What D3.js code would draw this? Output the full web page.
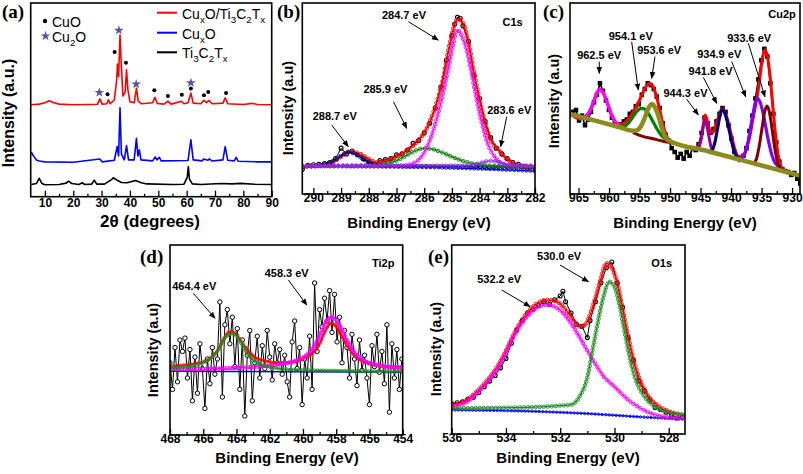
<!DOCTYPE html>
<html><head><meta charset="utf-8">
<script src="https://cdn.jsdelivr.net/npm/d3@7"></script>
<style>
body{margin:0;background:#fff;}
svg{display:block;font-family:"Liberation Sans",Arial,sans-serif;}
</style></head><body>
<svg id="chart" width="803" height="474"></svg>
<script>
// ===================== DATA =====================
// (a) XRD: [2theta, intensity (arb., 0-100 frame units)]
const xrdCuxOTi = [[5,47.5],[8,47.8],[10,48.5],[11.5,49.5],[13,48.6],[15,47.8],[20,47.5],[25,47.6],[28.5,47.7],[29.4,50.5],[30.2,47.8],[31.8,48],[32.4,50],[33,48],[34.5,50],[35.3,60],[35.6,68.5],[36.0,62],[36.5,83.5],[36.9,70],[37.5,52],[38.3,54],[38.8,65.5],[39.3,55],[40,49],[41.5,48.5],[42.3,56],[42.9,49.5],[44,48],[48,48.5],[48.8,51.3],[49.6,48.2],[52,47.8],[53.4,49.3],[54.5,47.8],[58.2,49.3],[59,48],[60.5,48.5],[61.5,53.5],[62.3,48.3],[65,48],[66.1,49.8],[67,48.6],[67.9,49.7],[69,48],[72.8,48.3],[73.6,51],[74.5,48],[80,47.6],[83,48.2],[85,47.6],[90,47.5]];
const xrdCuxO = [[5.2,23],[6,21],[7,19],[8,18.4],[10,18],[20,17.8],[29.4,19.5],[30.2,18],[34.5,18.8],[35.5,25.9],[36.0,21],[36.5,45.9],[37,22],[38,19],[38.8,26.4],[39.5,19],[41.5,19],[42.3,30.2],[42.8,21],[43.3,24.2],[43.9,19],[48,18.5],[48.9,20.5],[49.5,19],[50.4,20.3],[51,18.5],[60.5,18.7],[61.5,29.4],[62.3,19],[65.5,18.5],[66,19.5],[67.5,18.8],[68,19.5],[69,18.4],[72.8,19],[73.6,25.9],[74.5,18.8],[76.8,18.5],[77.5,20.3],[78.2,18.3],[85,18],[90,18]];
const xrdTi3C2 = [[5.2,6.3],[7,6.8],[8,9.5],[9,6.8],[10,6.2],[15,6.3],[17.5,7],[18.3,8],[19.5,6.8],[22,6.3],[23.2,7.2],[24,6.3],[26.5,6.5],[27.4,8.5],[28.3,6.5],[31,6.5],[33.5,8.8],[34.1,9.8],[35.5,8.5],[37,7.3],[39,7.2],[41,8],[42,8.3],[44,7.2],[46,6.6],[55,6.3],[59,6.4],[60.2,10],[60.6,15.5],[61,9],[62,6.6],[65,6.3],[72,6.8],[76,6.6],[79,6.9],[84,6.4],[90,6.3]];
const xrdCuOMarks = [[32.1,52.9],[34.6,74.7],[38.6,69.2],[48.6,55],[53.4,52],[58.3,52.6],[61.5,55.8],[66.1,52.4],[67.6,54],[73.9,53.5]];
const xrdCu2OMarks = [[29.2,53.8],[36.1,85.9],[42.2,58.1],[61.5,58.8]];
const xrdTicks = [10,20,30,40,50,60,70,80,90];
const xrdMinor = [15,25,35,45,55,65,75,85];

// (b) C1s: [binding energy eV, intensity]
const c1sRaw = [[290.4,13],[290.2,15],[290.0,15.3],[289.8,15.5],[289.6,16],[289.4,16.5],[289.2,18.5],[289.0,24],[288.8,21],[288.6,22.5],[288.4,20.5],[288.2,18.5],[288.0,17],[287.8,16],[287.6,17.5],[287.4,18],[287.2,18.5],[287.0,20.5],[286.8,21],[286.6,23],[286.4,26.5],[286.2,28],[286.0,32],[285.8,37],[285.6,45],[285.4,56],[285.2,70],[285.0,83],[284.9,89],[284.8,92.5],[284.7,92],[284.6,88],[284.4,80],[284.2,62],[284.0,50],[283.8,38],[283.6,29.5],[283.4,24],[283.2,21],[283.0,18.5],[282.8,16.5],[282.6,15.5],[282.4,14.5],[282.2,14],[282.0,13.5]];
const c1sEnvelope = [[290.4,14.3],[289.5,15.2],[289,19.5],[288.7,22.1],[288.3,20.9],[288,18.3],[287.7,16.4],[287.3,17.8],[287,19.5],[286.5,24.1],[286.2,28.3],[285.9,34.6],[285.6,45.5],[285.3,61.3],[285.1,77],[284.9,88.5],[284.8,91.6],[284.6,89.5],[284.4,79],[284.2,63.4],[284.0,49.2],[283.8,37.2],[283.6,28.3],[283.3,23],[283.1,19.4],[282.8,16.2],[282.5,14.1],[282.0,13.6]];
const c1s2887 = [[290.4,14.7],[289.8,15],[289.4,16.5],[289.1,19],[288.9,21],[288.75,22],[288.5,21],[288.3,19.3],[288.0,16.5],[287.7,15.2],[287.3,14.7],[286,14.5],[282,14]];
const c1s2859 = [[290.4,14.7],[288,14.9],[287.5,15.6],[287,17.5],[286.6,20.5],[286.3,22.8],[286.0,23.9],[285.7,23.5],[285.4,22],[285,19.5],[284.6,17.3],[284.2,15.8],[283.8,15],[283.3,14.6],[282,14.3]];
const c1s2847 = [[290.4,14.7],[286.8,14.8],[286.4,16],[286.1,19.5],[285.8,28],[285.5,42],[285.3,54],[285.1,68],[284.95,79],[284.8,85.9],[284.65,83],[284.5,77],[284.3,64],[284.1,49],[283.9,36],[283.7,26],[283.4,18.5],[283.1,15.5],[282.7,14.8],[282,14.7]];
const c1s2836 = [[290.4,14.7],[284.6,14.8],[284.2,15.3],[283.9,16.5],[283.6,17.4],[283.3,16.6],[283.0,15.3],[282.6,14.8],[282,14.7]];
const c1sBackground = [[290.4,14.5],[286,14],[284,13.2],[282,12]];
const c1sTicks = [290,289,288,287,286,285,284,283,282];
const c1sMinor = [289.5,288.5,287.5,286.5,285.5,284.5,283.5,282.5];

// (c) Cu2p: raw counts on a 0.49 eV grid starting at 965.9 eV
const cu2pRawStart = 965.9, cu2pRawStep = 0.49;
const cu2pRaw = [43,44,38.5,41,36,39,43,48,52,58,54,49,44,40,37,35.5,36.5,38,39,42,43,46,47,52,55,58,57,55,51,45,37,31,28,24,22,19,21,18.5,22,20,24,23,26,32,40,37,32,34,38,42,45,43,36,29,22,19,18,20,24,33,41,50,60,70,76,72,58,42,27,17,13,12,11.5,10,11,8,5.5];
const cu2pEnvelope = [[966.4,41.9],[964.92,39.5],[963.94,40.5],[963.05,44],[962.46,49],[961.97,53],[961.48,54.8],[960.99,53.3],[960.49,49.5],[959.9,44],[959.31,39.5],[958.72,37],[958.03,36.5],[957.34,37.5],[956.56,40.5],[955.87,44],[955.18,48],[954.59,52],[954.0,56],[953.41,58],[952.82,56.5],[952.22,51],[951.63,43],[951.04,35],[950.45,29.5],[949.86,27.5],[947.7,25.3],[945.73,23.9],[945.04,27],[944.65,34],[944.25,41.4],[943.86,38],[943.46,33],[943.07,32],[942.58,35],[942.09,40],[941.5,44.5],[941.0,43],[940.41,37],[939.82,29],[939.23,22],[938.64,19.5],[938.05,20],[937.46,24],[936.87,31],[936.38,40],[935.88,48],[935.39,58],[934.9,70],[934.5,75.4],[934.11,73],[933.72,65],[933.32,52],[932.93,38],[932.54,26],[932.14,18],[931.75,14],[931.16,12],[929.98,10.6],[928.7,9.6]];
const cu2p9625 = [[964.92,39.3],[964.23,39.7],[963.64,41],[963.05,44],[962.46,49],[961.97,53],[961.48,54.8],[960.99,53.3],[960.49,49.5],[959.9,44],[959.31,39.5],[958.72,37],[958.13,35.8]];
const cu2p9541 = [[958.53,35.2],[957.54,35.5],[956.85,37],[956.16,40],[955.57,42.8],[954.98,44.5],[954.59,44.9],[954.0,44],[953.41,41.5],[952.82,38],[952.22,34.5],[951.63,31.5],[951.04,29.5],[950.26,28.1]];
const cu2p9536 = [[966.4,41.9],[958.53,35.2],[956.06,33.1],[955.37,33.5],[954.78,35.5],[954.19,39.5],[953.6,44.5],[953.01,47.1],[952.42,45],[951.83,40],[951.24,33.5],[950.65,29],[950.06,27.8],[943.76,22.4],[938.84,18.2],[933.91,14],[928.7,9.6]];
const cu2pStep = [[956.06,32.2],[954.59,30.3],[952.62,28.8],[951.14,27.6],[949.67,26.8],[948.68,26.2]];
const cu2p9443 = [[945.73,23.9],[945.24,25],[944.84,30],[944.55,35.5],[944.25,38.7],[943.96,36],[943.66,30.5],[943.27,24.5],[942.77,21.5],[942.18,20.8]];
const cu2p9418 = [[943.56,21.5],[943.07,23],[942.58,28],[942.18,35],[941.79,41.5],[941.5,44],[941.1,43],[940.71,39],[940.21,32],[939.72,25],[939.23,20.5],[938.64,18.5],[938.05,18]];
const cu2p9349 = [[938.84,17.2],[938.25,18.5],[937.66,22],[937.16,28],[936.67,37],[936.18,45.5],[935.78,50.1],[935.29,48.5],[934.8,43],[934.31,35],[933.82,27],[933.32,20.5],[932.83,16.5],[932.24,14.5],[931.45,12.5],[930.76,11.2]];
const cu2p9336 = [[936.47,15.8],[935.88,18],[935.39,25],[934.9,35],[934.5,43],[934.11,46.1],[933.72,43],[933.32,35],[932.83,24],[932.34,16],[931.75,13],[931.16,12]];
const cu2pTicks = [965,960,955,950,945,940,935,930];
const cu2pMinor = [962.5,957.5,952.5,947.5,942.5,937.5,932.5];

// (d) Ti2p: raw counts on a 0.15 eV energy grid starting at 468 eV
const ti2pRawStart = 468, ti2pRawStep = 0.15;
const ti2pRaw = [38,24,46,28,50,44,51,30,45,18,41,22,48,35,14,40,27,46,32,40,70,20,58,66,48,62,36,56,24,50,10,42,55,18,38,52,30,47,35,55,41,29,48,38,45,32,42,28,20,49,60,35,46,16,40,30,52,24,80,44,66,57,72,60,76,54,74,49,62,38,55,46,30,53,40,26,50,34,42,30,16,47,36,53,33,44,27,58,12,48,30,45,24,40];
const ti2pEnvelope = [[468,36],[467,37],[466,38.5],[465.5,41],[465.1,45],[464.8,50],[464.5,54],[464.3,54.4],[464,53],[463.7,49],[463.3,44.5],[462.9,41],[462.3,39],[461.5,38],[460.5,38.5],[460,40],[459.5,42.5],[459,48],[458.7,54],[458.3,59],[458,57],[457.6,51],[457.2,45],[456.8,41],[456.2,38],[455.5,36.5],[454,35.5]];
const ti2p4644 = [[468,35.5],[467,36],[466.2,37.5],[465.6,40],[465.2,43.5],[464.9,48],[464.6,52],[464.3,53.5],[464.0,52],[463.7,48],[463.4,43.5],[463.0,39.5],[462.5,37],[461.8,35.5],[461,34.5],[459,34],[456,33.6],[454,33.4]];
const ti2p4583 = [[468,34.6],[465,35],[463,35.8],[461.5,37],[460.5,39],[459.8,42],[459.3,47],[458.9,54],[458.6,59.5],[458.3,62],[458.0,60.5],[457.7,56],[457.3,49],[456.9,43.5],[456.4,39.5],[455.8,37.5],[455,36],[454,35.5]];
const ti2pBackground = [[468,33.5],[461,33.3],[454,33]];
const ti2pTicks = [468,466,464,462,460,458,456,454];
const ti2pMinor = [467,465,463,461,459,457,455];

// (e) O1s
const o1sRaw = [[536,16],[535.8,16.5],[535.6,17],[535.4,18.5],[535.2,19.5],[535.0,22],[534.8,25],[534.6,28],[534.4,31],[534.2,35],[534.0,40],[533.8,48],[533.6,55],[533.4,60],[533.2,64],[533.0,66],[532.8,68],[532.6,70],[532.4,68.5],[532.2,71],[532.0,73],[531.9,75.5],[531.8,70],[531.6,64],[531.4,58],[531.2,57],[531.0,51],[530.9,60],[530.7,70],[530.5,80],[530.3,88],[530.1,91],[529.9,80],[529.7,67],[529.5,51],[529.3,39],[529.1,28],[528.9,23],[528.7,18],[528.5,14],[528.3,13],[528.1,11.5],[527.9,10],[527.7,8.5],[527.5,9]];
const o1sEnvelope = [[536,15.3],[535.5,17.5],[535,23.5],[534.6,30],[534.3,36],[534.0,44],[533.7,53],[533.4,60.5],[533.1,66],[532.8,69.5],[532.5,70.9],[532.2,70.5],[531.9,67.5],[531.6,62],[531.3,57],[531.1,57.5],[530.9,63],[530.7,72],[530.5,82],[530.3,90.3],[530.1,88],[529.9,80],[529.7,66],[529.5,52],[529.3,39],[529.1,30],[528.8,21],[528.4,15],[528.0,12],[527.4,10]];
const o1s5322 = [[536,14.4],[535.5,16.5],[535,22.5],[534.6,29],[534.3,35],[534.0,43],[533.7,52],[533.4,59],[533.1,64],[532.8,67.3],[532.5,68.3],[532.2,67.3],[531.9,64],[531.6,58.5],[531.3,51.5],[531.0,44],[530.7,37],[530.4,30.5],[530.0,25],[529.4,17],[528.8,11.8],[528.2,9.2],[527.4,8.3]];
const o1s5300 = [[536,13.6],[533,14.2],[532,15],[531.6,15.5],[531.3,19.5],[531.0,30],[530.8,45],[530.6,60],[530.4,73],[530.2,80.6],[530.0,78],[529.8,67],[529.6,52],[529.4,38],[529.2,28],[529.0,22],[528.8,18],[528.4,13.5],[528.0,11.5],[527.4,10]];
const o1sBackground = [[536,12.7],[533,12],[531,10.8],[529,9],[527.4,7.8]];
const o1sTicks = [536,534,532,530,528];
const o1sMinor = [535,533,531,529];

// annotations: [text, textX, textY, arrowFromX, arrowFromY, arrowToX, arrowToY] in data units
const c1sNotes = [["284.7 eV",286.73,91.4,286.57,90.2,285.49,80.6],["285.9 eV",287.4,52.9,287.11,48.3,286.63,34.4],["288.7 eV",289.23,38.5,289.34,36.1,288.74,24.8],["283.6 eV",282.93,41.9,283.02,40.5,283.24,24.8]];
const cu2pNotes = [["962.5 eV",961.62,70.7,961.6,69.3,961.6,63.2],["954.1 eV",956.44,80.6,956.29,79.7,955.21,54.5],["953.6 eV",951.78,73.3,952.47,71.9,953.01,60.6],["933.6 eV",937.03,79.6,937.17,78.9,934.44,50.9],["934.9 eV",941.94,71.2,939.89,69.3,937.6,50.9],["941.8 eV",943.36,62.3,944.55,61.1,942.35,47.5],["944.3 eV",947.47,50.8,947.27,49.6,945.36,41.4]];
const ti2pNotes = [["464.4 eV",466.54,76.3,466.6,74.6,465.29,61.4],["458.3 eV",460.98,83.2,460.88,81.6,459.77,68.4]];
const o1sNotes = [["532.2 eV",534.25,79.7,534.16,76.2,533.11,67.4],["530.0 eV",532.04,92.1,532.01,89.4,530.96,80.6]];

// ===================== DRAWING =====================
const SANS = '"Liberation Sans", Arial, sans-serif';
const SERIF = '"Liberation Serif", "Times New Roman", serif';
const svg = d3.select('#chart');
const defs = svg.append('defs');
defs.append('marker').attr('id','arrow').attr('viewBox','0 0 10 10').attr('refX',9).attr('refY',5)
  .attr('markerWidth',7).attr('markerHeight',7).attr('orient','auto-start-reverse')
  .append('path').attr('d','M0,1 L10,5 L0,9 z').attr('fill','#000');
let clipN = 0;

function makePanel(f, xDomain, major, minor, labelBase){
  const g = svg.append('g');
  const x = d3.scaleLinear().domain(xDomain).range([f.l, f.r]);
  const y = d3.scaleLinear().domain([0,100]).range([f.b, f.t]);
  const id = 'clip' + (clipN++);
  defs.append('clipPath').attr('id',id).append('rect')
    .attr('x',f.l).attr('y',f.t).attr('width',f.r-f.l).attr('height',f.b-f.t);
  const plot = g.append('g').attr('clip-path',`url(#${id})`);
  const ax = g.append('g').attr('transform',`translate(0,${f.b})`)
    .call(d3.axisBottom(x).tickValues(major).tickSize(-6).tickPadding(labelBase).tickFormat(d3.format('d')));
  ax.select('.domain').remove();
  ax.selectAll('line').attr('stroke','#000').attr('stroke-width',1.3);
  ax.selectAll('text').attr('font-family',SANS).attr('font-weight','bold').attr('font-size',12).attr('fill','#000').attr('dy',0);
  const axm = g.append('g').attr('transform',`translate(0,${f.b})`)
    .call(d3.axisBottom(x).tickValues(minor).tickSize(-3).tickFormat(''));
  axm.select('.domain').remove();
  axm.selectAll('line').attr('stroke','#000').attr('stroke-width',1.3);
  g.append('rect').attr('x',f.l).attr('y',f.t).attr('width',f.r-f.l).attr('height',f.b-f.t)
    .attr('fill','none').attr('stroke','#000').attr('stroke-width',1.6);
  return {g, plot, x, y, f};
}

function series(p, data, color, o = {}){
  const line = d3.line().x(d=>p.x(d[0])).y(d=>p.y(d[1]))
    .curve(o.curve || d3.curveMonotoneX);
  const path = p.plot.append('path').datum(data).attr('d',line)
    .attr('fill','none').attr('stroke',color).attr('stroke-width',o.w || 1.2)
    .attr('stroke-linejoin','round');
  const m = o.marker;
  if (m){
    let pts;
    if (m.along){
      const node = path.node(), L = node.getTotalLength();
      pts = d3.range(0, L, m.along).map(l => { const q = node.getPointAtLength(l); return [q.x,q.y]; });
    } else {
      pts = data.map(d=>[p.x(d[0]), p.y(d[1])]);
    }
    const s = m.size || 2;
    if (m.shape === 'square'){
      p.plot.selectAll(null).data(pts).enter().append('rect')
        .attr('x',d=>d[0]-s).attr('y',d=>d[1]-s).attr('width',2*s).attr('height',2*s)
        .attr('fill',m.fill || 'none').attr('stroke',color).attr('stroke-width',m.sw || 0.9);
    } else {
      p.plot.selectAll(null).data(pts).enter().append('circle')
        .attr('cx',d=>d[0]).attr('cy',d=>d[1]).attr('r',s)
        .attr('fill',m.fill || 'none').attr('stroke',color).attr('stroke-width',m.sw || 0.9);
    }
  }
  return path;
}

function notes(p, list, size){
  list.forEach(n=>{
    p.g.append('text').attr('x',p.x(n[1])).attr('y',p.y(n[2])).attr('text-anchor','middle')
      .attr('font-family',SANS).attr('font-weight','bold').attr('font-size',size || 11).text(n[0]);
    p.g.append('line').attr('x1',p.x(n[3])).attr('y1',p.y(n[4])).attr('x2',p.x(n[5])).attr('y2',p.y(n[6]))
      .attr('stroke','#000').attr('stroke-width',1).attr('marker-end','url(#arrow)');
  });
}

function richText(sel, parts, size){
  parts.forEach((pt,i)=>{
    const prevSub = i>0 && parts[i-1][1];
    const t = sel.append('tspan').text(pt[0]);
    if (pt[1]) { t.attr('font-size', size*0.7).attr('dy', prevSub ? 0 : size*0.3); }
    else if (prevSub) { t.attr('dy', -size*0.3); }
  });
}

function yTitle(x, y, text, size){
  svg.append('text').attr('transform',`translate(${x},${y}) rotate(-90)`).attr('text-anchor','middle')
    .attr('font-family',SANS).attr('font-size',size).attr('font-weight','bold').text(text);
}
function xTitle(x, y, text, size){
  svg.append('text').attr('x',x).attr('y',y).attr('text-anchor','middle')
    .attr('font-family',SANS).attr('font-size',size).attr('font-weight','bold').text(text);
}
function panelTag(x, y, t){
  svg.append('text').attr('x',x).attr('y',y).attr('font-family',SERIF).attr('font-weight','bold')
    .attr('font-size',19).text(t);
}
function cornerLabel(p, x, y, t){
  p.g.append('text').attr('x',p.x(x)).attr('y',p.y(y)).attr('text-anchor','middle')
    .attr('font-family',SANS).attr('font-weight','bold').attr('font-size',11).text(t);
}

// ---------- (a) XRD ----------
const pA = makePanel({l:30.7, r:271.7, t:3, b:196.7}, [5,90], xrdTicks, xrdMinor, 10);
series(pA, xrdTi3C2, '#000', {curve:d3.curveLinear, w:1.6});
series(pA, xrdCuxO, '#0000ff', {curve:d3.curveLinear, w:1.6});
series(pA, xrdCuxOTi, '#ff0000', {curve:d3.curveLinear, w:1.6});
pA.g.selectAll(null).data(xrdCuOMarks).enter().append('circle')
  .attr('cx',d=>pA.x(d[0])).attr('cy',d=>pA.y(d[1])).attr('r',2).attr('fill','#000');
pA.g.selectAll(null).data(xrdCu2OMarks).enter().append('path')
  .attr('transform',d=>`translate(${pA.x(d[0])},${pA.y(d[1])})`)
  .attr('d',d3.symbol(d3.symbolStar,30)).attr('fill','#5555a8');
// legend
svg.append('circle').attr('cx',45).attr('cy',21).attr('r',2.2).attr('fill','#000');
svg.append('text').attr('x',52).attr('y',26.5).attr('font-size',14).attr('font-family',SANS).text('CuO');
svg.append('path').attr('transform','translate(45.5,36)').attr('d',d3.symbol(d3.symbolStar,30)).attr('fill','#5555a8');
richText(svg.append('text').attr('x',52).attr('y',41.5).attr('font-size',14).attr('font-family',SANS), [['Cu',0],['2',1],['O',0]], 14);
const legA = [['#ff0000',12.7,19,[['Cu',0],['x',1],['O/Ti',0],['3',1],['C',0],['2',1],['T',0],['x',1]]],
              ['#0000ff',32.7,38.5,[['Cu',0],['x',1],['O',0]]],
              ['#000000',52.3,58,[['Ti',0],['3',1],['C',0],['2',1],['T',0],['x',1]]]];
legA.forEach(l=>{
  svg.append('line').attr('x1',157).attr('x2',177).attr('y1',l[1]).attr('y2',l[1]).attr('stroke',l[0]).attr('stroke-width',2);
  richText(svg.append('text').attr('x',182).attr('y',l[2]).attr('font-size',14).attr('font-family',SANS), l[3], 14);
});
panelTag(2, 18, '(a)');
yTitle(14, 113, 'Intensity (a.u.)', 16);
svg.append('text').attr('x',150).attr('y',227).attr('text-anchor','middle').attr('font-family',SANS)
  .attr('font-size',17).attr('font-weight','bold').text('2\u03B8 (degrees)');

// ---------- (b) C1s ----------
const pB = makePanel({l:302.3, r:535, t:3, b:194}, [290.4,282], c1sTicks, c1sMinor, 8);
series(pB, c1sBackground, '#0000ff', {w:1.2, marker:{along:4, size:1.5}});
series(pB, c1sRaw, '#000', {curve:d3.curveLinear, w:1, marker:{size:2, fill:'none', sw:1.1}});
series(pB, c1sEnvelope, '#ff0000', {w:1.4, marker:{along:4.5, size:1.9}});
series(pB, c1s2887, '#000080', {w:1.3, marker:{along:4.5, size:1.8}});
series(pB, c1s2859, '#008000', {w:1.2, marker:{along:4.5, size:1.8}});
series(pB, c1s2847, '#ff00ff', {w:1.2, marker:{along:4.5, size:1.8}});
series(pB, c1s2836, '#8a2be2', {w:1.2, marker:{along:4.5, size:1.8}});
notes(pB, c1sNotes);
cornerLabel(pB, 282.81, 87.7, 'C1s');
panelTag(277, 18, '(b)');
yTitle(293, 108, 'Intensity (a.u)', 14.5);
xTitle(419, 228, 'Binding Energy (eV)', 15);

// ---------- (c) Cu2p ----------
const pC = makePanel({l:570, r:800, t:3, b:194}, [966.4,928.7], cu2pTicks, cu2pMinor, 8);
const cu2pRawPts = cu2pRaw.map((v,i)=>[cu2pRawStart - i*cu2pRawStep, v]);
series(pC, cu2pRawPts, '#000', {curve:d3.curveLinear, w:1.6, marker:{size:1.8, fill:'#000', shape:'square'}});
series(pC, cu2pEnvelope, '#ff0000', {w:3});
series(pC, cu2pStep, '#800000', {w:3});
series(pC, cu2p9625, '#ff00ff', {w:3.2});
series(pC, cu2p9541, '#008000', {w:3.2});
series(pC, cu2p9443, '#990099', {w:3});
series(pC, cu2p9418, '#000080', {w:3.2});
series(pC, cu2p9349, '#8000ff', {w:3.2});
series(pC, cu2p9336, '#800000', {w:3});
series(pC, cu2p9536, '#8c8c1e', {w:4.5});
notes(pC, cu2pNotes);
cornerLabel(pC, 931.65, 92.1, 'Cu2p');
panelTag(543, 18, '(c)');
yTitle(559, 101, 'Intensity (a.u)', 14.5);
xTitle(685, 228, 'Binding Energy (eV)', 15);

// ---------- (d) Ti2p ----------
const pD = makePanel({l:170, r:402.7, t:245, b:435}, [468,454], ti2pTicks, ti2pMinor, 8);
const ti2pRawPts = ti2pRaw.map((v,i)=>[ti2pRawStart - i*ti2pRawStep, v]);
series(pD, ti2pBackground, '#0000ff', {w:1.5});
series(pD, ti2pRawPts, '#000', {curve:d3.curveLinear, w:1, marker:{size:2.2, fill:'#fff', sw:1}});
series(pD, ti2pEnvelope, '#ff0000', {w:1.6, marker:{along:3.5, size:1.4}});
series(pD, ti2p4583, '#ff00ff', {w:1.2, marker:{along:3, size:1.4, shape:'square'}});
series(pD, ti2p4644, '#228b22', {w:1.2, marker:{along:3, size:1.5}});
notes(pD, ti2pNotes);
cornerLabel(pD, 455.17, 88.4, 'Ti2p');
panelTag(140, 263, '(d)');
yTitle(158, 350, 'Intensity (a.u)', 14.5);
xTitle(287, 463, 'Binding Energy (eV)', 15);

// ---------- (e) O1s ----------
const pE = makePanel({l:451.7, r:685, t:245, b:434}, [536,527.4], o1sTicks, o1sMinor, 8);
series(pE, o1sBackground, '#0000ff', {w:1.2, marker:{along:3.5, size:1.2}});
series(pE, o1sRaw, '#000', {curve:d3.curveLinear, w:1, marker:{size:2, fill:'none', sw:1.1}});
series(pE, o1sEnvelope, '#ff0000', {w:1.3, marker:{along:4, size:1.9}});
series(pE, o1s5322, '#ff00ff', {w:1.2, marker:{along:4, size:1.8}});
series(pE, o1s5300, '#228b22', {w:1.2, marker:{along:4, size:1.8}});
notes(pE, o1sNotes);
cornerLabel(pE, 528.26, 88.5, 'O1s');
panelTag(428, 263, '(e)');
yTitle(441, 349, 'Intensity (a.u)', 14.5);
xTitle(568, 463, 'Binding Energy (eV)', 15);
</script>
</body></html>
